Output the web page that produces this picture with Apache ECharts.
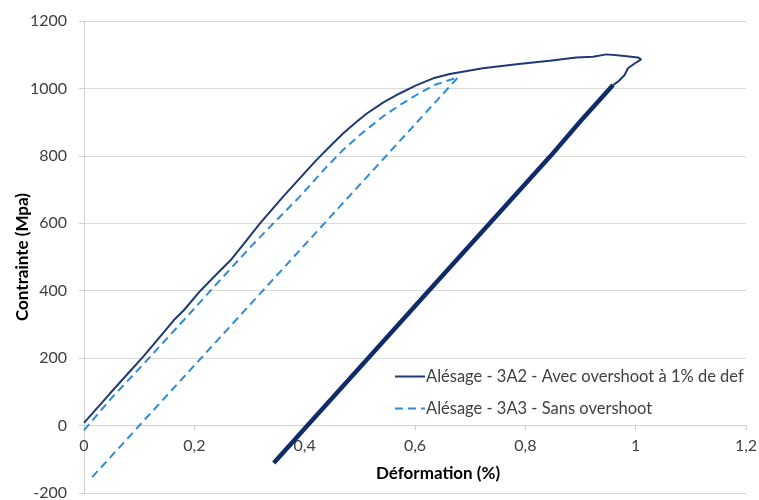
<!DOCTYPE html>
<html>
<head>
<meta charset="utf-8">
<script src="https://cdn.jsdelivr.net/npm/echarts@6/dist/echarts.min.js"></script>
<style>html,body{margin:0;padding:0;background:#fff}#c{width:759px;height:500px}</style>
</head>
<body>
<div id="c"></div>
<script>
// Series A: "Alésage - 3A2 - Avec overshoot à 1% de def"
var seriesAName = 'Alésage - 3A2 - Avec overshoot à 1% de def';
var strainA_load = [0, 0.047, 0.085, 0.107, 0.13, 0.163, 0.181, 0.211, 0.2415, 0.266, 0.290, 0.319, 0.361, 0.391, 0.4216, 0.447, 0.47, 0.492, 0.512, 0.542, 0.572, 0.603, 0.633, 0.663, 0.723, 0.784, 0.844, 0.8925, 0.9227, 0.947, 0.971, 1.004, 1.010, 0.998, 0.986, 0.980, 0.968, 0.959];
var stressA_load = [8, 95, 164, 204, 248, 313, 342, 400, 451, 491, 540, 600, 679, 733, 788, 830, 867, 898, 925, 958, 985, 1010, 1030, 1043, 1060, 1072, 1082, 1092, 1094, 1101, 1098, 1092, 1086, 1074, 1060, 1040, 1020, 1010];
var strainA_unload = [0.959, 0.901, 0.846, 0.7355, 0.625, 0.515, 0.405, 0.344];
var stressA_unload = [1010, 905, 800, 600, 400, 200, 0, -111];

// Series B: "Alésage - 3A3 - Sans overshoot"
var seriesBName = 'Alésage - 3A3 - Sans overshoot';
var strainB = [0, 0.05, 0.103, 0.181, 0.2415, 0.302, 0.3375, 0.391, 0.44, 0.47, 0.5, 0.542, 0.572, 0.607, 0.635, 0.663, 0.678, 0.663, 0.0097];
var stressB = [-14, 82, 174, 313, 422, 530, 590, 679, 768, 818, 862, 917, 950, 985, 1010, 1025, 1033, 1006, -162];

// Axis ticks
var xTickLabels = ['0', '0,2', '0,4', '0,6', '0,8', '1', '1,2'];
var yTickLabels = ['-200', '0', '200', '400', '600', '800', '1000', '1200'];

function zip(a, b) { return a.map(function (v, i) { return [v, b[i]]; }); }

var FONT = 'Lato';
var chart = echarts.init(document.getElementById('c'), null, { renderer: 'canvas' });
chart.setOption({
  animation: false,
  backgroundColor: '#ffffff',
  grid: { left: 84, right: 13, top: 21, bottom: 7, containLabel: false, outerBoundsMode: 'none' },
  xAxis: {
    type: 'value', min: 0, max: 1.2, interval: 0.2,
    position: 'bottom', offset: -67.4,
    axisLine: { show: true, onZero: false, lineStyle: { color: '#D0D0D0', width: 1 } },
    axisTick: { show: true, length: 5, lineStyle: { color: '#D0D0D0' } },
    axisLabel: {
      margin: 12, color: '#404040', fontFamily: FONT, fontSize: 16,
      formatter: function (v) { return xTickLabels[Math.round(v / 0.2)]; }
    },
    splitLine: { show: false }
  },
  yAxis: {
    type: 'value', min: -200, max: 1200, interval: 200,
    axisLine: { show: true, onZero: false, lineStyle: { color: '#D0D0D0', width: 1 } },
    axisTick: { show: true, length: 5, lineStyle: { color: '#D0D0D0' } },
    axisLabel: {
      margin: 17, color: '#404040', fontFamily: FONT, fontSize: 16,
      formatter: function (v) { return yTickLabels[Math.round((v + 200) / 200)]; }
    },
    splitLine: { show: true, lineStyle: { color: '#D9D9D9', width: 1 } }
  },
  legend: {
    data: [seriesAName, seriesBName],
    orient: 'vertical', left: 389, top: 362,
    itemWidth: 30, itemHeight: 14, itemGap: 13,
    itemStyle: { opacity: 0 },
    textStyle: { fontFamily: FONT, fontSize: 16.5, color: '#404040', lineHeight: 19, padding: [0, 0, 0, -4] }
  },
  graphic: [
    { type: 'text', x: 438, y: 474, style: { text: 'Déformation (%)', textAlign: 'center', textVerticalAlign: 'middle', font: 'bold 17px ' + FONT, fill: '#000000' } },
    { type: 'text', rotation: Math.PI / 2, x: 23, y: 257, style: { text: 'Contrainte (Mpa)', textAlign: 'center', textVerticalAlign: 'middle', font: 'bold 17px ' + FONT, fill: '#000000' } }
  ],
  series: [
    { name: seriesAName, type: 'line', symbol: 'none', data: zip(strainA_load, stressA_load),
      lineStyle: { color: '#1F3A73', width: 2 }, itemStyle: { color: '#1F3A73' }, z: 3 },
    { name: seriesAName, type: 'line', symbol: 'none', data: zip(strainA_unload, stressA_unload),
      lineStyle: { color: '#0F2C69', width: 4.5 }, itemStyle: { color: '#0F2C69' }, z: 3 },
    { name: seriesBName, type: 'line', symbol: 'none', data: zip(strainB, stressB),
      lineStyle: { color: '#2E8BD6', width: 2, type: [8, 5] }, itemStyle: { color: '#2E8BD6' }, z: 2 }
  ]
});
</script>
</body>
</html>
